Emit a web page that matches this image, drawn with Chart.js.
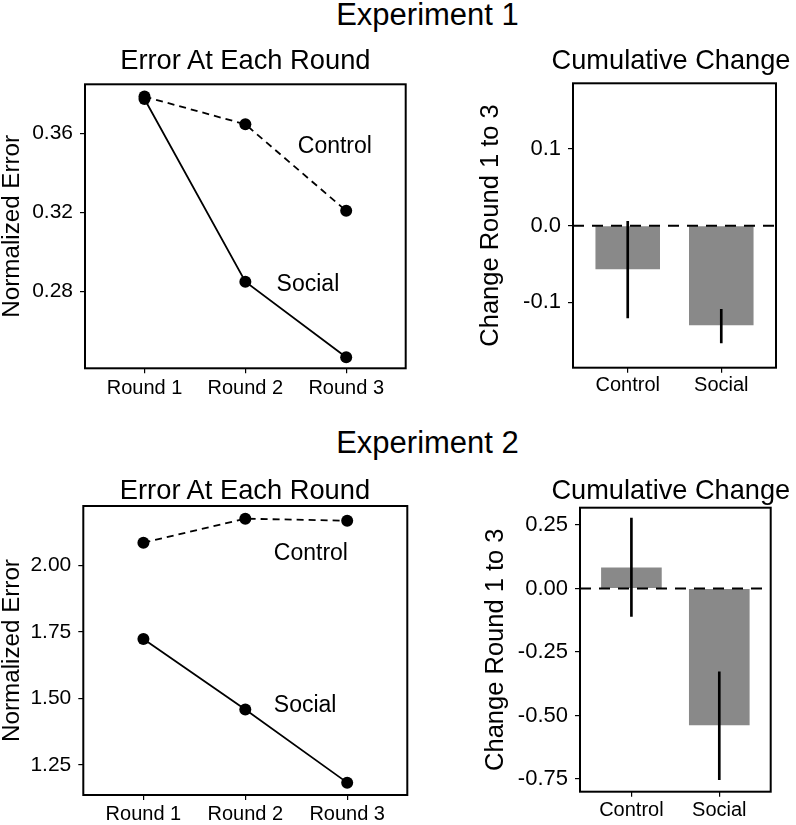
<!DOCTYPE html>
<html><head><meta charset="utf-8">
<script src="https://cdn.jsdelivr.net/npm/chart.js@4.4.1/dist/chart.umd.min.js"></script>
<style>
html,body{margin:0;padding:0;background:#fff;}
body{width:796px;height:825px;position:relative;overflow:hidden;font-family:"Liberation Sans",Arial,sans-serif;color:#000;}
canvas{position:absolute;}
.t{position:absolute;white-space:nowrap;line-height:1;text-align:center;width:400px;}
</style></head><body>
<canvas id="c1" width="420" height="326" style="left:0;top:74px"></canvas>
<canvas id="c2" width="376" height="326" style="left:420px;top:74px"></canvas>
<canvas id="c3" width="420" height="325" style="left:0;top:500px"></canvas>
<canvas id="c4" width="376" height="325" style="left:420px;top:500px"></canvas>
<div class="t" style="left:227.5px;top:-1.2px;font-size:31px">Experiment 1</div>
<div class="t" style="left:227.5px;top:426.8px;font-size:31px">Experiment 2</div>
<div class="t" style="left:45.4px;top:46.1px;font-size:27.3px">Error At Each Round</div>
<div class="t" style="left:471px;top:46.2px;font-size:27.2px">Cumulative Change</div>
<div class="t" style="left:45px;top:476.1px;font-size:27.3px">Error At Each Round</div>
<div class="t" style="left:470.8px;top:476.2px;font-size:27.2px">Cumulative Change</div>
<script>
// ---- data ----
const rounds = ['Round 1', 'Round 2', 'Round 3'];
const exp1Control = [0.3785, 0.3645, 0.3208];
const exp1Social  = [0.3773, 0.2850, 0.2469];
const exp2Control = [2.0865, 2.1767, 2.1690];
const exp2Social  = [1.7237, 1.4586, 1.1835];

const groups = ['Control', 'Social'];
const exp1Change  = [-0.057, -0.130];
const exp1ErrLow  = [-0.1205, -0.153];
const exp1ErrHigh = [0.0056, -0.109];
const exp2Change  = [0.083, -0.538];
const exp2ErrLow  = [-0.110, -0.753];
const exp2ErrHigh = [0.277, -0.328];

const exp1LineTicks = [0.28, 0.32, 0.36];
const exp2LineTicks = [1.25, 1.50, 1.75, 2.00];
const exp1BarTicks  = [-0.1, 0.0, 0.1];
const exp2BarTicks  = [-0.75, -0.50, -0.25, 0.00, 0.25];

const exp1LineRange = [0.2413, 0.3847];
const exp2LineRange = [1.137, 2.2244];
const exp1BarRange  = [-0.1853, 0.1857];
const exp2BarRange  = [-0.80, 0.318];

const exp1Notes = [{text: 'Control', x: 2.52, y: 0.3532}, {text: 'Social', x: 2.31, y: 0.2834}];
const exp2Notes = [{text: 'Control', x: 2.28, y: 2.0466}, {text: 'Social', x: 2.28, y: 1.4737}];

// ---- layout (geometry of each panel inside its canvas) ----
const GEO = {
  c1: {yW: 85,  padR: 14.3, padT: 10.3, xH: 31.7, xPad: 3, yPad: 7, tick: 21, yTitle: 24.2, yTitlePad: 0},
  c2: {yW: 153, padR: 20,   padT: 9.3,  xH: 32.3, xPad: 1, yPad: 7, tick: 22, yTitle: 25.5, yTitlePad: 58.5},
  c3: {yW: 83.3, padR: 12.7, padT: 6,   xH: 30,   xPad: 2, yPad: 7, tick: 21, yTitle: 24.2, yTitlePad: 0},
  c4: {yW: 160, padR: 25.3, padT: 7.7,  xH: 33.3, xPad: 2, yPad: 7, tick: 22, yTitle: 25.5, yTitlePad: 63.3}
};

Chart.defaults.font.family = "'Liberation Sans', Arial, sans-serif";
Chart.defaults.color = '#000';

const boxPlugin = {
  id: 'box',
  afterDraw(chart) {
    const {ctx, chartArea: a} = chart;
    ctx.save();
    ctx.strokeStyle = '#000';
    ctx.lineWidth = 2;
    ctx.strokeRect(a.left, a.top, a.right - a.left, a.bottom - a.top);
    ctx.restore();
  }
};
const notesPlugin = {
  id: 'notes',
  afterDatasetsDraw(chart, args, opts) {
    if (!opts.items) return;
    const {ctx, scales: {x, y}} = chart;
    ctx.save();
    ctx.font = opts.size + "px 'Liberation Sans', Arial, sans-serif";
    ctx.fillStyle = '#000';
    ctx.textAlign = 'left';
    ctx.textBaseline = 'middle';
    opts.items.forEach(n => ctx.fillText(n.text, x.getPixelForValue(n.x), y.getPixelForValue(n.y)));
    ctx.restore();
  }
};
const zeroPlugin = {
  id: 'zero',
  afterDatasetsDraw(chart, args, opts) {
    if (!opts.show) return;
    const {ctx, chartArea: a, scales: {y}} = chart;
    const py = y.getPixelForValue(0);
    ctx.save();
    ctx.strokeStyle = '#000';
    ctx.lineWidth = 2;
    ctx.setLineDash([11, 8]);
    ctx.beginPath();
    ctx.moveTo(a.left, py);
    ctx.lineTo(a.right, py);
    ctx.stroke();
    ctx.restore();
  }
};

function zeroPad(s) { s.paddingLeft = 0; s.paddingRight = 0; s.paddingTop = 0; s.paddingBottom = 0; }

function axes(g, xMin, xMax, xLabels, yRange, yTicks, dec, yTitle) {
  return {
    x: {
      type: 'linear', min: xMin, max: xMax, offset: false,
      grid: {display: true, offset: false, drawOnChartArea: false, drawTicks: true, tickLength: 5, color: '#000', lineWidth: 1.2},
      border: {display: false},
      ticks: {font: {size: 20}, padding: g.xPad, color: '#000', maxRotation: 0, autoSkip: false,
              callback: v => xLabels[Math.round(v) - 1]},
      afterBuildTicks: s => { s.ticks = xLabels.map((l, i) => ({value: i + 1})); },
      afterFit: s => { s.height = g.xH; zeroPad(s); }
    },
    y: {
      type: 'linear', min: yRange[0], max: yRange[1], offset: false,
      grid: {display: true, drawOnChartArea: false, drawTicks: true, tickLength: 5, color: '#000', lineWidth: 1.2},
      border: {display: false},
      ticks: {font: {size: g.tick}, padding: g.yPad, color: '#000', autoSkip: false,
              callback: v => Number(v).toFixed(dec)},
      afterBuildTicks: s => { s.ticks = yTicks.map(v => ({value: v})); },
      title: {display: true, text: yTitle, color: '#000', font: {size: g.yTitle, lineHeight: 1},
              padding: {top: g.yTitlePad, bottom: 0}},
      afterFit: s => { s.width = g.yW; zeroPad(s); }
    }
  };
}

function lineChart(id, control, social, yRange, yTicks, dec, notes) {
  const g = GEO[id];
  return new Chart(document.getElementById(id), {
    type: 'line',
    data: {datasets: [
      {label: 'Control', data: rounds.map((r, i) => ({x: i + 1, y: control[i]})),
       borderColor: '#000', borderWidth: 1.8, borderDash: [7, 5], pointRadius: 6,
       pointBackgroundColor: '#000', pointBorderWidth: 0, tension: 0, fill: false},
      {label: 'Social', data: rounds.map((r, i) => ({x: i + 1, y: social[i]})),
       borderColor: '#000', borderWidth: 1.8, pointRadius: 6,
       pointBackgroundColor: '#000', pointBorderWidth: 0, tension: 0, fill: false}
    ]},
    options: {
      responsive: false, animation: false, events: [],
      layout: {padding: {top: g.padT, right: g.padR, left: 0, bottom: 0}},
      plugins: {legend: {display: false}, tooltip: {enabled: false}, notes: {items: notes, size: 23}, zero: {show: false}},
      scales: axes(g, 0.41, 3.59, rounds, yRange, yTicks, dec, 'Normalized Error')
    },
    plugins: [boxPlugin, notesPlugin, zeroPlugin]
  });
}

function barChart(id, vals, lo, hi, yRange, yTicks, dec) {
  const g = GEO[id];
  return new Chart(document.getElementById(id), {
    type: 'bar',
    data: {datasets: [
      {label: 'SE', data: groups.map((k, i) => ({x: i + 1, y: [lo[i], hi[i]]})),
       backgroundColor: '#000', borderWidth: 0, barThickness: 2, grouped: false, order: 0},
      {label: 'Change', data: groups.map((k, i) => ({x: i + 1, y: vals[i]})),
       backgroundColor: '#898989', borderWidth: 0, barPercentage: 0.69, categoryPercentage: 1, grouped: false, order: 1}
    ]},
    options: {
      responsive: false, animation: false, events: [],
      layout: {padding: {top: g.padT, right: g.padR, left: 0, bottom: 0}},
      plugins: {legend: {display: false}, tooltip: {enabled: false}, zero: {show: true}},
      scales: axes(g, 0.415, 2.585, groups, yRange, yTicks, dec, 'Change Round 1 to 3')
    },
    plugins: [boxPlugin, notesPlugin, zeroPlugin]
  });
}

lineChart('c1', exp1Control, exp1Social, exp1LineRange, exp1LineTicks, 2, exp1Notes);
barChart('c2', exp1Change, exp1ErrLow, exp1ErrHigh, exp1BarRange, exp1BarTicks, 1);
lineChart('c3', exp2Control, exp2Social, exp2LineRange, exp2LineTicks, 2, exp2Notes);
barChart('c4', exp2Change, exp2ErrLow, exp2ErrHigh, exp2BarRange, exp2BarTicks, 2);
</script>
</body></html>
